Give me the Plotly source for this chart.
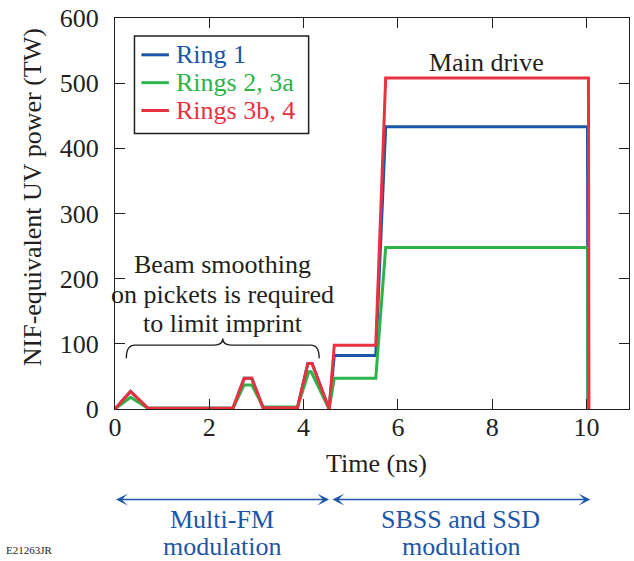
import plotly.graph_objects as go

# ---------------- data ----------------
t_ring1 = [0.00, 0.33, 0.70, 2.50, 2.74, 2.90, 3.14, 3.87, 4.09, 4.18, 4.54, 4.65, 5.53, 5.74, 10.02, 10.03]
p_ring1 = [0, 27, 1, 1, 47, 47, 2, 2, 70, 70, 0, 82, 82, 433, 433, 0]

t_ring23a = [0.00, 0.33, 0.70, 2.50, 2.74, 2.90, 3.14, 3.87, 4.11, 4.16, 4.54, 4.65, 5.53, 5.74, 10.02, 10.03]
p_ring23a = [0, 18, 1, 1, 37, 37, 3, 3, 57, 57, 0, 47, 47, 248, 248, 0]

t_ring3b4 = [0.00, 0.33, 0.70, 2.50, 2.74, 2.90, 3.14, 3.87, 4.09, 4.18, 4.54, 4.65, 5.53, 5.74, 10.04, 10.05]
p_ring3b4 = [0, 27, 1, 1, 47, 47, 2, 2, 70, 70, 0, 98, 98, 508, 508, 0]

series_names = ["Ring 1", "Rings 2, 3a", "Rings 3b, 4"]
series_colors = ["#1c56a8", "#2cb34a", "#e8323f"]

x_ticks = [0, 2, 4, 6, 8, 10]
y_ticks = [0, 100, 200, 300, 400, 500, 600]

# annotation anchors (data units)
brace_x = [0.24, 4.33]
brace_y = [78, 98, 108]
picket_note = ["Beam smoothing", "on pickets is required", "to limit imprint"]
modulation_spans = [(-0.01, 4.54), (4.58, 10.08)]
modulation_labels = [("Multi-FM", "modulation"), ("SBSS and SSD", "modulation")]

# ---------------- layout geometry ----------------
W, H = 634, 561
ML, MR, MT, MB = 115, 4, 16, 152
PW, PH = W - ML - MR, H - MT - MB
XR = [0, 10.9]
YR = [0, 600]

TXT = "#231f20"
FONT = "Liberation Serif, DejaVu Serif, serif"


def px_x(px):
    return (px - ML) / PW


def px_y(py):
    return (H - MB - py) / PH


fig = go.Figure()
for t, p, name, col in zip([t_ring1, t_ring23a, t_ring3b4],
                           [p_ring1, p_ring23a, p_ring3b4],
                           series_names, series_colors):
    fig.add_trace(go.Scatter(x=t, y=p, mode="lines", name=name,
                             line=dict(color=col, width=3), showlegend=False))

annotations = []
shapes = []

# manual legend (tight line spacing as in reference)
shapes.append(dict(type="rect", xref="paper", yref="paper",
                   x0=px_x(134.5), x1=px_x(309), y0=px_y(132), y1=px_y(34),
                   line=dict(color=TXT, width=1.5), fillcolor="white", layer="above"))
for i, (name, col) in enumerate(zip(series_names, series_colors)):
    yy = px_y(53 + i * 28)
    shapes.append(dict(type="line", xref="paper", yref="paper",
                       x0=px_x(141.5), x1=px_x(169), y0=yy, y1=yy,
                       line=dict(color=col, width=3), layer="above"))
    annotations.append(dict(xref="paper", yref="paper", x=px_x(174), y=yy,
                            text=name, showarrow=False, xanchor="left", yanchor="middle",
                            font=dict(family=FONT, size=26, color=col)))

# brace
x0, x1 = brace_x
xm = (x0 + x1) / 2
yb, yh, yt = brace_y
d = 0.18
path = (f"M{x0},{yb} Q{x0},{yh} {x0 + d},{yh} L{xm - d},{yh} "
        f"Q{xm},{yh} {xm},{yt} Q{xm},{yh} {xm + d},{yh} L{x1 - d},{yh} Q{x1},{yh} {x1},{yb}")
shapes.append(dict(type="path", xref="x", yref="y", path=path,
                   line=dict(color=TXT, width=1.4)))

for i, line in enumerate(picket_note):
    annotations.append(dict(xref="x", yref="paper", x=xm, y=px_y(264 + i * 29.5),
                            text=line, showarrow=False, xanchor="center", yanchor="middle",
                            font=dict(family=FONT, size=26, color=TXT)))

annotations.append(dict(xref="paper", yref="paper", x=px_x(487), y=px_y(61),
                        text="Main drive", showarrow=False, xanchor="center", yanchor="middle",
                        font=dict(family=FONT, size=26, color=TXT)))

# axis titles
annotations.append(dict(xref="paper", yref="paper", x=px_x(377), y=px_y(464),
                        text="Time (ns)", showarrow=False, xanchor="center", yanchor="middle",
                        font=dict(family=FONT, size=26, color=TXT)))
annotations.append(dict(xref="paper", yref="paper", x=px_x(32), y=px_y(196),
                        text="NIF-equivalent UV power (TW)", textangle=-90, showarrow=False,
                        xanchor="center", yanchor="middle",
                        font=dict(family=FONT, size=26, color=TXT)))

# modulation arrows
BLUE = "#1c56a8"
for (a, b), (l1, l2) in zip(modulation_spans, modulation_labels):
    annotations.append(dict(xref="x", yref="paper", x=b, y=px_y(500),
                            axref="x", ayref="pixel", ax=a, ay=0, text="",
                            showarrow=True, arrowside="end+start",
                            arrowhead=3, startarrowhead=3, arrowsize=1.3, startarrowsize=1.3,
                            arrowwidth=1.5, arrowcolor=BLUE))
    xc = (a + b) / 2
    annotations.append(dict(xref="x", yref="paper", x=xc, y=px_y(520),
                            text=l1, showarrow=False, xanchor="center", yanchor="middle",
                            font=dict(family=FONT, size=26, color=BLUE)))
    annotations.append(dict(xref="x", yref="paper", x=xc, y=px_y(547),
                            text=l2, showarrow=False, xanchor="center", yanchor="middle",
                            font=dict(family=FONT, size=26, color=BLUE)))

annotations.append(dict(xref="paper", yref="paper", x=px_x(4), y=px_y(559),
                        text="E21263JR", showarrow=False, xanchor="left", yanchor="bottom",
                        font=dict(family=FONT, size=11, color=TXT)))

axis_common = dict(showline=True, linecolor=TXT, linewidth=1.3, mirror="ticks",
                   ticks="inside", ticklen=10, tickwidth=1.3, tickcolor=TXT,
                   showgrid=False, zeroline=False,
                   tickfont=dict(family=FONT, size=26, color=TXT))

fig.update_layout(
    width=W, height=H,
    margin=dict(l=ML, r=MR, t=MT, b=MB),
    paper_bgcolor="white", plot_bgcolor="white",
    xaxis=dict(range=XR, tickvals=x_ticks, ticklabelstandoff=-5, **axis_common),
    yaxis=dict(range=YR, tickvals=y_ticks, ticklabelstandoff=10, **axis_common),
    shapes=shapes,
    annotations=annotations,
    showlegend=False,
)

fig.write_html("out.html")
